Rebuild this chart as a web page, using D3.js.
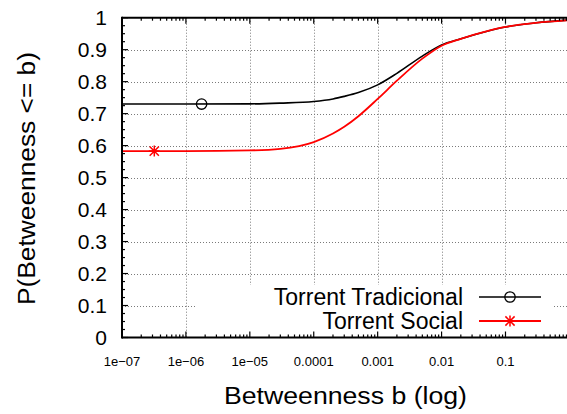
<!DOCTYPE html>
<html>
<head>
<meta charset="utf-8">
<script src="https://cdn.jsdelivr.net/npm/d3@7"></script>
<style>
  html, body { margin: 0; padding: 0; background: #fff; }
  svg { display: block; font-family: "Liberation Sans", Arial, Helvetica, sans-serif; }
</style>
</head>
<body>
<svg id="chart" width="567" height="414"></svg>
<script>
// Betweenness values (x, log scale) at which the CDFs are sampled
const betweenness = [1e-7, 1e-6, 1e-5, 3e-5, 1e-4, 2e-4, 3e-4, 5e-4, 1e-3, 2e-3, 5e-3, 1e-2, 2e-2, 5e-2, 1e-1, 3e-1, 1];
// P(Betweenness <= b)
const tradicional = [0.730, 0.730, 0.7305, 0.733, 0.738, 0.746, 0.754, 0.766, 0.790, 0.826, 0.880, 0.915, 0.934, 0.957, 0.971, 0.984, 0.993];
const social      = [0.583, 0.583, 0.585, 0.590, 0.611, 0.638, 0.659, 0.692, 0.746, 0.803, 0.872, 0.9125, 0.934, 0.957, 0.971, 0.984, 0.992];
// single point markers on each curve
const tradicionalMarker = [{ b: 1.76e-6, p: 0.730 }];
const socialMarker      = [{ b: 3.2e-7,  p: 0.583 }];

const seriesNames = ["Torrent Tradicional", "Torrent Social"];
const xTickValues = [1e-7, 1e-6, 1e-5, 1e-4, 1e-3, 1e-2, 1e-1];
const xTickLabels = ["1e\u221207", "1e\u221206", "1e\u221205", "0.0001", "0.001", "0.01", "0.1"];
const yTickValues = [0, 0.1, 0.2, 0.3, 0.4, 0.5, 0.6, 0.7, 0.8, 0.9, 1];
const yTickLabels = ["0", "0.1", "0.2", "0.3", "0.4", "0.5", "0.6", "0.7", "0.8", "0.9", "1"];

const svg = d3.select("#chart");
const plotLeft = 122, plotRight = 569.4, plotTop = 17.7, plotBottom = 337.5;

const x = d3.scaleLog().domain([1e-7, 1]).range([plotLeft, plotRight]);
const y = d3.scaleLinear().domain([0, 1]).range([plotBottom, plotTop]);

// clip region for the plot area
svg.append("defs").append("clipPath").attr("id", "plotclip")
  .append("rect").attr("x", plotLeft).attr("y", plotTop)
  .attr("width", plotRight - plotLeft).attr("height", plotBottom - plotTop);

// grid
const grid = svg.append("g").attr("stroke", "#7a7a7a").attr("stroke-width", 1).attr("stroke-dasharray", "1,2");
grid.selectAll("line.gx").data(xTickValues.slice(1)).join("line")
  .attr("x1", d => Math.round(x(d)) + 0.5).attr("x2", d => Math.round(x(d)) + 0.5)
  .attr("y1", plotTop).attr("y2", plotBottom);
grid.selectAll("line.gy").data(yTickValues.slice(1, -1)).join("line")
  .attr("y1", d => Math.round(y(d)) + 0.5).attr("y2", d => Math.round(y(d)) + 0.5)
  .attr("x1", plotLeft).attr("x2", plotRight);

// legend box (opaque, covers the grid)
const legendBox = { x0: 197, x1: 553, y0: 285, y1: plotBottom };
svg.append("rect").attr("x", legendBox.x0).attr("y", legendBox.y0)
  .attr("width", legendBox.x1 - legendBox.x0).attr("height", legendBox.y1 - legendBox.y0)
  .attr("fill", "#fff");

// curves
const line = d3.line().x(d => x(d[0])).y(d => y(d[1])).curve(d3.curveMonotoneX);
const plot = svg.append("g").attr("clip-path", "url(#plotclip)");
plot.append("path").datum(betweenness.map((b, i) => [b, tradicional[i]]))
  .attr("d", line).attr("fill", "none").attr("stroke", "#000").attr("stroke-width", 1.6);
plot.append("path").datum(betweenness.map((b, i) => [b, social[i]]))
  .attr("d", line).attr("fill", "none").attr("stroke", "#ff0000").attr("stroke-width", 1.8);

// marker shapes
function circleMarker(g, cx, cy) {
  g.append("circle").attr("cx", cx).attr("cy", cy).attr("r", 5.2)
    .attr("fill", "none").attr("stroke", "#000").attr("stroke-width", 1.3);
}
function starMarker(g, cx, cy) {
  const s = 5.5, d = 4.6;
  const p = `M${cx - s},${cy}L${cx + s},${cy}M${cx},${cy - s}L${cx},${cy + s}` +
            `M${cx - d},${cy - d}L${cx + d},${cy + d}M${cx - d},${cy + d}L${cx + d},${cy - d}`;
  g.append("path").attr("d", p).attr("stroke", "#ff0000").attr("stroke-width", 1.5).attr("fill", "none");
}
tradicionalMarker.forEach(m => circleMarker(plot, x(m.b), y(m.p)));
socialMarker.forEach(m => starMarker(plot, x(m.b), y(m.p)));

// axes frame
const frame = svg.append("g").attr("stroke", "#000").attr("stroke-width", 2);
frame.append("line").attr("x1", plotLeft).attr("x2", plotRight + 2).attr("y1", plotTop).attr("y2", plotTop);
frame.append("line").attr("x1", plotLeft).attr("x2", plotRight + 2).attr("y1", plotBottom).attr("y2", plotBottom);
frame.append("line").attr("x1", plotLeft).attr("x2", plotLeft).attr("y1", plotTop - 1).attr("y2", plotBottom + 1);

// x ticks (major + log minor), bottom and top
const xMinor = [];
for (let e = -7; e < 0; e++) for (let k = 2; k <= 9; k++) xMinor.push(k * Math.pow(10, e));
const ticks = svg.append("g").attr("stroke", "#000").attr("stroke-width", 1.2);
ticks.selectAll("line.xmaj").data(xTickValues).join("line")
  .attr("x1", d => x(d)).attr("x2", d => x(d)).attr("y1", plotBottom).attr("y2", plotBottom - 6);
ticks.selectAll("line.xmajt").data(xTickValues).join("line")
  .attr("x1", d => x(d)).attr("x2", d => x(d)).attr("y1", plotTop).attr("y2", plotTop + 6);
ticks.selectAll("line.xmin").data(xMinor).join("line")
  .attr("x1", d => x(d)).attr("x2", d => x(d)).attr("y1", plotBottom).attr("y2", plotBottom - 3);
ticks.selectAll("line.xmint").data(xMinor).join("line")
  .attr("x1", d => x(d)).attr("x2", d => x(d)).attr("y1", plotTop).attr("y2", plotTop + 3);

// y ticks (major + 4 minor subdivisions)
const yMinor = d3.range(0, 41).map(i => i * 0.025).filter(v => Math.abs(v * 10 - Math.round(v * 10)) > 1e-6);
ticks.selectAll("line.ymaj").data(yTickValues).join("line")
  .attr("y1", d => y(d)).attr("y2", d => y(d)).attr("x1", plotLeft).attr("x2", plotLeft + 6);
ticks.selectAll("line.ymin").data(yMinor).join("line")
  .attr("y1", d => y(d)).attr("y2", d => y(d)).attr("x1", plotLeft).attr("x2", plotLeft + 3);

// tick labels
svg.append("g").selectAll("text").data(xTickValues).join("text")
  .attr("x", d => x(d)).attr("y", 366).attr("text-anchor", "middle")
  .attr("font-size", 13).attr("fill", "#000")
  .text((d, i) => xTickLabels[i]);
svg.append("g").selectAll("text").data(yTickValues).join("text")
  .attr("x", 107).attr("y", d => y(d) + 7.5).attr("text-anchor", "end")
  .attr("font-size", 21).attr("fill", "#000")
  .text((d, i) => yTickLabels[i]);

// axis titles
svg.append("text").attr("x", 224).attr("y", 404)
  .attr("font-size", 23).attr("textLength", 243).attr("lengthAdjust", "spacingAndGlyphs")
  .text("Betweenness b (log)");
svg.append("text").attr("transform", "translate(35,305) rotate(-90)")
  .attr("font-size", 23).attr("textLength", 253).attr("lengthAdjust", "spacingAndGlyphs")
  .text("P(Betweenness <= b)");

// legend
const legend = svg.append("g");
const rows = [
  { name: seriesNames[0], y: 297, color: "#000", marker: circleMarker, w: 1.6 },
  { name: seriesNames[1], y: 321, color: "#ff0000", marker: starMarker, w: 1.8 }
];
rows.forEach(r => {
  legend.append("text").attr("x", 463).attr("y", r.y + 8).attr("text-anchor", "end")
    .attr("font-size", 23).text(r.name);
  legend.append("line").attr("x1", 479).attr("x2", 541).attr("y1", r.y).attr("y2", r.y)
    .attr("stroke", r.color).attr("stroke-width", r.w);
  r.marker(legend, 510, r.y);
});
</script>
</body>
</html>
